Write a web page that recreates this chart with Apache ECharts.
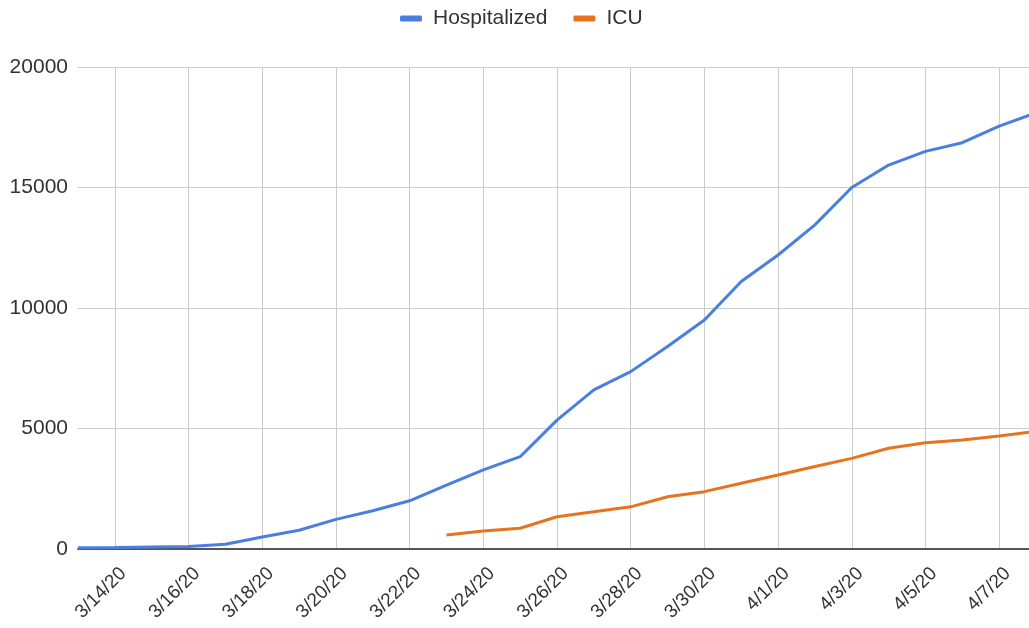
<!DOCTYPE html>
<html>
<head>
<meta charset="utf-8">
<script src="https://cdn.jsdelivr.net/npm/echarts@6/dist/echarts.min.js"></script>
<style>html,body{margin:0;padding:0;background:#fff;overflow:hidden}#c{width:1029px;height:628px}</style>
</head>
<body>
<div id="c"></div>
<script>
const categories = ['3/13/20','3/14/20','3/15/20','3/16/20','3/17/20','3/18/20','3/19/20','3/20/20','3/21/20','3/22/20','3/23/20','3/24/20','3/25/20','3/26/20','3/27/20','3/28/20','3/29/20','3/30/20','3/31/20','4/1/20','4/2/20','4/3/20','4/4/20','4/5/20','4/6/20','4/7/20','4/8/20'];
const hospitalized = [50,60,80,100,200,500,780,1230,1590,2000,2650,3280,3830,5350,6600,7360,8400,9500,11100,12200,13450,15000,15930,16500,16860,17550,18100];
const icu = [null,null,null,null,null,null,null,null,null,null,580,750,860,1340,1550,1750,2170,2380,2730,3070,3420,3760,4180,4410,4520,4690,4880];
const seriesNames = ['Hospitalized','ICU'];
const yTicks = [0,5000,10000,15000,20000];

const chart = echarts.init(document.getElementById('c'), null, {renderer:'canvas'});
chart.setOption({
  animation:false,
  backgroundColor:'#fff',
  textStyle:{fontFamily:'Liberation Sans, Arial, sans-serif'},
  legend:{
    top:3, left:395, itemWidth:22, itemHeight:6, itemGap:26,
    icon:'roundRect',
    textStyle:{fontSize:21,color:'#333',padding:[0,0,0,6]},
    data:seriesNames
  },
  grid:{left:78, right:-7, top:67, bottom:79, containLabel:false, outerBoundsMode:'none'},
  xAxis:{
    type:'category', data:categories, boundaryGap:false,
    axisLine:{show:true,lineStyle:{color:'#555',width:2}},
    axisTick:{show:false},
    axisLabel:{rotate:45, interval:(i)=>i%2===1, fontSize:19, color:'#333', margin:30, padding:[0,-12,0,0]},
    splitLine:{show:true, interval:(i)=>i%2===1, lineStyle:{color:'#cccccc',width:1}}
  },
  yAxis:{
    type:'value', min:yTicks[0], max:yTicks[yTicks.length-1], interval:5000,
    axisLine:{show:false}, axisTick:{show:false},
    axisLabel:{fontSize:21, color:'#333', margin:10, formatter:(v)=>String(v)},
    splitLine:{lineStyle:{color:'#cccccc',width:1}}
  },
  series:[
    {name:seriesNames[0], type:'line', data:hospitalized, showSymbol:false, symbol:'none',
     lineStyle:{color:'#4a7fe0',width:3}, itemStyle:{color:'#4a7fe0'}},
    {name:seriesNames[1], type:'line', data:icu, showSymbol:false, symbol:'none',
     lineStyle:{color:'#e8731f',width:3}, itemStyle:{color:'#e8731f'}}
  ]
});
</script>
</body>
</html>
